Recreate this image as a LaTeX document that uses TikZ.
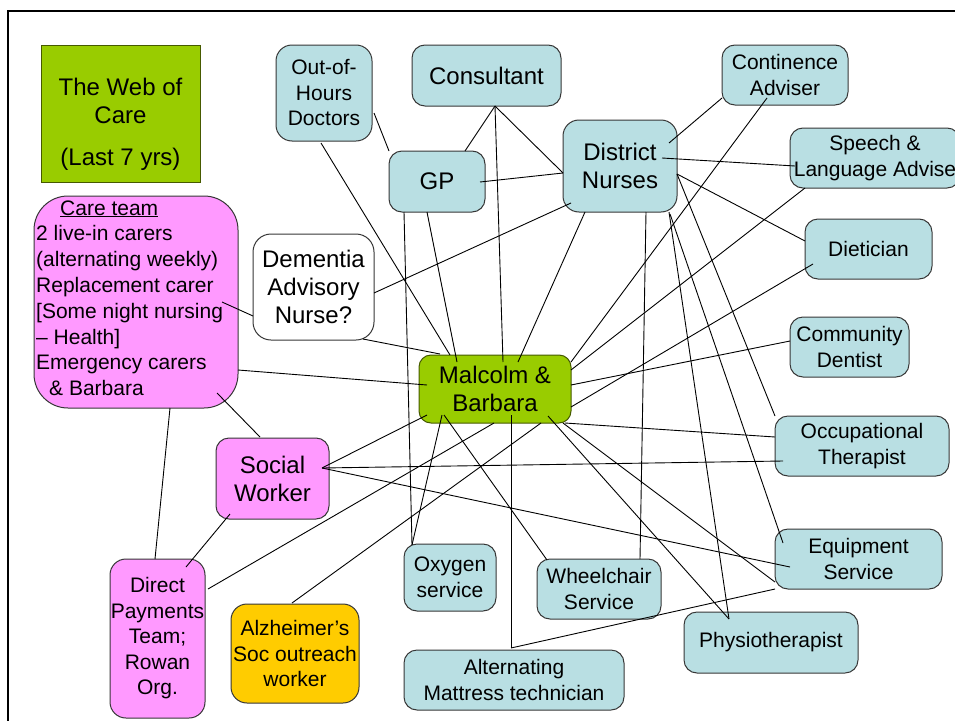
\documentclass[tikz,border=0pt]{standalone}
\usepackage{fontspec}
\setmainfont{Liberation Sans}
\usetikzlibrary{calc}
\definecolor{bluebox}{RGB}{185,223,227}
\definecolor{pinkbox}{RGB}{255,153,255}
\definecolor{greenbox}{RGB}{153,204,0}
\definecolor{orangebox}{RGB}{255,204,0}
\definecolor{edgegray}{RGB}{55,55,55}
\definecolor{edgegreen}{RGB}{70,90,0}
\begin{document}
\begin{tikzpicture}[x=1pt,y=-1pt,
  box/.style={draw=edgegray, line width=1pt, rounded corners=13pt, inner sep=0pt, align=center,
              font=\fontsize{21}{25.5}\selectfont, text=black},
  big/.style={font=\fontsize{24}{28}\selectfont},
  bluebx/.style={box, fill=bluebox},
  pinkbx/.style={box, fill=pinkbox},
  greenbx/.style={box, fill=greenbox, draw=edgegreen},
  linetext/.style={anchor=base west, inner sep=0pt, font=\fontsize{21}{25.5}\selectfont},
  link/.style={draw=black, line width=0.9pt},
]
\useasboundingbox (0,0) rectangle (955,720);
\fill[white] (0,0) rectangle (955,720);
% frame of the slide
\draw[line width=2.6pt] (8,725) -- (8,11) -- (965,11);

% boxes
\node[greenbx, rounded corners=0pt, minimum width=159pt, minimum height=137pt] (web) at (120.5,113.5) {};
\node[big, inner sep=0pt, align=center] (webtext) at (120.5,124) {The Web of\\Care\\[14pt](Last 7 yrs)};
\node[bluebx, rounded corners=16pt, minimum width=96pt, minimum height=96pt] (ooh) at (324,93) {Out-of-\\Hours\\Doctors};
\node[bluebx, big, minimum width=149pt, minimum height=61pt] (cons) at (486.5,75.5) {Consultant};
\node[bluebx, big, minimum width=96pt, minimum height=61pt] (gp) at (437,181.5) {GP};
\node[bluebx, big, rounded corners=16pt, minimum width=114pt, minimum height=92pt] (dn) at (620,166) {District\\Nurses};
\node[bluebx, minimum width=126pt, minimum height=60pt] (cont) at (785,75) {Continence\\Adviser};
\node[bluebx, minimum width=170pt, minimum height=60pt] (speech) at (875,158) {Speech \&\\Language Advise};
\node[bluebx, minimum width=127pt, minimum height=60pt] (diet) at (868.5,249) {Dietician};
\node[pinkbx, rounded corners=34pt, minimum width=204pt, minimum height=212pt] (care) at (136,302) {};
\node[linetext] (ct1) at (60,215) {\underline{Care team}};
\node[linetext] (ct2) at (36,240.8) {2 live-in carers};
\node[linetext] (ct3) at (36,266.6) {(alternating weekly)};
\node[linetext] (ct4) at (36,292.4) {Replacement carer};
\node[linetext] (ct5) at (36,318.2) {[Some night nursing};
\node[linetext] (ct6) at (36,344) {– Health]};
\node[linetext] (ct7) at (36,369.8) {Emergency carers};
\node[linetext] (ct8) at (49,395.6) {\& Barbara};
\node[box, big, fill=white, rounded corners=18pt, minimum width=121pt, minimum height=106pt] (dem) at (313.5,287) {Dementia\\Advisory\\Nurse?};
\node[greenbx, big, rounded corners=12pt, minimum width=152pt, minimum height=68pt] (mb) at (495,389) {Malcolm \&\\Barbara};
\node[bluebx, minimum width=119pt, minimum height=60pt] (dent) at (849.5,347) {Community\\Dentist};
\node[bluebx, minimum width=174pt, minimum height=60pt] (ot) at (862,446) {Occupational\\Therapist};
\node[pinkbx, big, minimum width=113pt, minimum height=81pt] (sw) at (272.5,478.5) {Social\\Worker};
\node[pinkbx, rounded corners=16pt, minimum width=95pt, minimum height=159pt] (dp) at (157.5,638.5) {Direct\\Payments\\Team;\\Rowan\\Org.};
\node[box, fill=orangebox, rounded corners=16pt, minimum width=128pt, minimum height=99pt] (alz) at (295,653.5) {Alzheimer’s\\Soc outreach\\worker};
\node[bluebx, minimum width=92pt, minimum height=67pt] (oxy) at (450,577.5) {Oxygen\\service};
\node[bluebx, minimum width=124pt, minimum height=60pt] (wc) at (599,589) {Wheelchair\\Service};
\node[bluebx, minimum width=167pt, minimum height=60pt] (eq) at (858.5,559) {Equipment\\Service};
\node[bluebx, minimum width=174pt, minimum height=61pt] (phys) at (771,642.5) {Physiotherapist};
\node[bluebx, minimum width=220pt, minimum height=60pt] (mat) at (514,680) {Alternating\\Mattress technician};

% connectors
\draw[link] ($(ooh.center)+(-3,50)$) -- ($(mb.center)+(-45,-34)$);
\draw[link] ($(ooh.center)+(50,20)$) -- ($(gp.center)+(-48,-30.5)$);
\draw[link] ($(cons.center)+(8.5,30.5)$) -- ($(gp.center)+(28,-30.5)$);
\draw[link] ($(cons.center)+(8.5,30.5)$) -- ($(dn.center)+(-57,7)$);
\draw[link] ($(cons.center)+(8.5,30.5)$) -- ($(mb.center)+(8,-27)$);
\draw[link] ($(gp.center)+(43,0.5)$) -- ($(dn.center)+(-57,7)$);
\draw[link] ($(gp.center)+(-33,30.5)$) -- ($(oxy.center)+(-38,-32.5)$);
\draw[link] ($(gp.center)+(-10,30.5)$) -- ($(mb.center)+(-38,-27)$);
\draw[link] ($(dn.center)+(-49,37)$) -- ($(dem.center)+(60.5,6)$);
\draw[link] ($(dn.center)+(-35,46)$) -- ($(mb.center)+(23,-27)$);
\draw[link] ($(dn.center)+(26,46)$) -- ($(wc.center)+(41,-30)$);
\draw[link] ($(dn.center)+(49,-23)$) -- ($(cont.center)+(-63,23)$);
\draw[link] ($(dn.center)+(42,-8)$) -- ($(speech.center)+(-80,8)$);
\draw[link] ($(dn.center)+(57,8)$) -- ($(diet.center)+(-63.5,-8)$);
\draw[link] ($(dn.center)+(57,8)$) -- ($(ot.center)+(-87,-30)$);
\draw[link] ($(dn.center)+(49,46)$) -- ($(phys.center)+(-42,-23.5)$);
\draw[link] ($(dn.center)+(50,48)$) -- ($(eq.center)+(-75.5,-16)$);
\draw[link] ($(cont.center)+(-18,23)$) -- ($(mb.center)+(76,-27)$);
\draw[link] ($(speech.center)+(-70,30)$) -- ($(mb.center)+(76,-19)$);
\draw[link] ($(diet.center)+(-55.5,15)$) -- ($(mb.center)+(76,18)$);
\draw[link] ($(dent.center)+(-59.5,-6)$) -- ($(mb.center)+(76,-4)$);
\draw[link] ($(ot.center)+(-87,-9)$) -- ($(mb.center)+(70,34)$);
\draw[link] ($(ot.center)+(-79,15)$) -- ($(sw.center)+(49.5,-10.5)$);
\draw[link] ($(sw.center)+(49.5,-10.5)$) -- ($(mb.center)+(-68,26)$);
\draw[link] ($(sw.center)+(49.5,-10.5)$) -- ($(eq.center)+(-68.5,8)$);
\draw[link] ($(care.center)+(102,68)$) -- ($(mb.center)+(-68,-4)$);
\draw[link] ($(care.center)+(86,0)$) -- ($(dem.center)+(-60.5,29)$);
\draw[link] ($(dem.center)+(49.5,52)$) -- ($(mb.center)+(-55,-35)$);
\draw[link] ($(care.center)+(34,106)$) -- ($(dp.center)+(-2.5,-79.5)$);
\draw[link] ($(care.center)+(81,91)$) -- ($(sw.center)+(-12.5,-41.5)$);
\draw[link] ($(sw.center)+(-42.5,35.5)$) -- ($(dp.center)+(28.5,-71.5)$);
\draw[link] ($(dp.center)+(50.5,-49.5)$) -- ($(mb.center)+(-1,34)$);
\draw[link] ($(alz.center)+(-3,-50.5)$) -- ($(mb.center)+(46,34)$);
\draw[link] ($(oxy.center)+(-38,-32.5)$) -- ($(mb.center)+(-53,26)$);
\draw[link] ($(wc.center)+(-52,-29)$) -- ($(mb.center)+(-51,26)$);
\draw[link] ($(mb.center)+(16,26)$) -- ($(mat.center)+(-3,-32)$);
\draw[link] ($(mb.center)+(53,27)$) -- ($(phys.center)+(-42,-23.5)$);
\draw[link] ($(mb.center)+(68,34)$) -- ($(eq.center)+(-83.5,23)$);
\draw[link] ($(eq.center)+(-83.5,30)$) -- ($(mat.center)+(-3,-32)$);
\end{tikzpicture}
\end{document}
